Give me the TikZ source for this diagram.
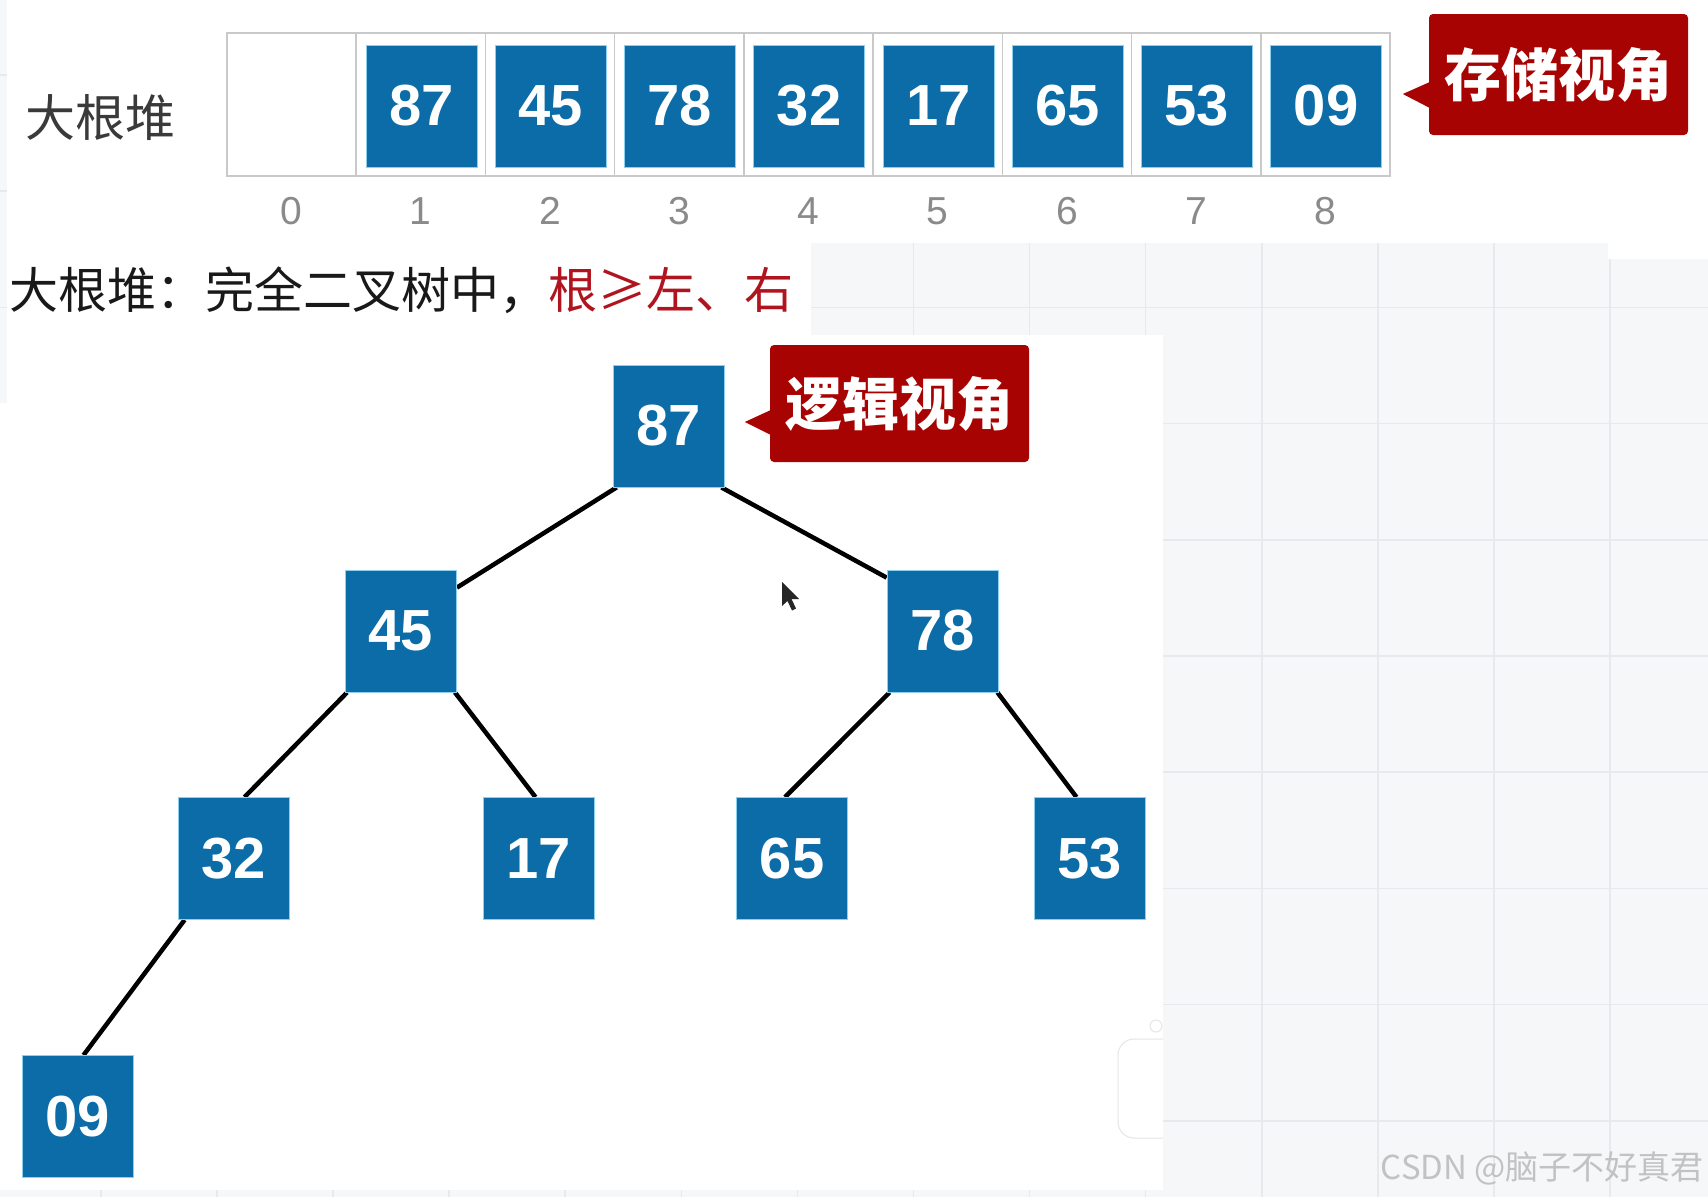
\documentclass[tikz,border=0pt]{standalone}
\usepackage{fontspec}
\newfontfamily\cjk{Noto Sans CJK SC}
\newfontfamily\numfont{Liberation Sans}
\usetikzlibrary{calc}
\definecolor{hblue}{HTML}{0C6CA8}
\definecolor{hedge}{HTML}{8CCFEE}
\definecolor{cred}{HTML}{A80303}
\definecolor{tred}{HTML}{B0141E}
\definecolor{bggray}{HTML}{F6F7F9}
\definecolor{gridc}{HTML}{E8E9EC}
\definecolor{cellb}{HTML}{C9C9C9}
\definecolor{idxg}{HTML}{8A8A8A}
\definecolor{labg}{HTML}{3A3A3A}
\definecolor{wmg}{HTML}{C2C2C2}
\pgfdeclarelayer{bg}
\pgfsetlayers{bg,main}
\begin{document}
\begin{tikzpicture}[x=1pt,y=-1pt,
  bluebox/.style={fill=hblue, draw=hedge, line width=0.8pt, minimum width=111pt, minimum height=122pt, inner sep=0pt, text=white, font=\numfont\bfseries\fontsize{58}{62}\selectfont},
  cellbox/.style={draw=cellb, line width=1.5pt, minimum width=129.2pt, minimum height=143pt, inner sep=0pt},
  idx/.style={text=idxg, font=\numfont\fontsize{39}{42}\selectfont, inner sep=0pt},
  callout/.style={fill=cred, rounded corners=4pt, minimum width=259pt, minimum height=121pt, inner sep=0pt, text=white, font=\cjk\bfseries\fontsize{57}{60}\selectfont},
  treeedge/.style={line width=4.5pt, black},
  gridline/.style={gridc, line width=1.5pt},
]
\useasboundingbox (0,0) rectangle (1708,1197);
% ---------- background ----------
\begin{pgfonlayer}{bg}
\fill[bggray] (0,0) rectangle (1708,1197);
\foreach \k in {0,...,13} \draw[gridline] ({100.8+116.1*\k},0) -- ({100.8+116.1*\k},1197);
\foreach \k in {0,...,9} \draw[gridline] (0,{75+116.2*\k}) -- (1708,{75+116.2*\k});
\fill[white] (7,0) rectangle (1708,243);
\fill[white] (1608,243) rectangle (1708,259);
\fill[white] (7,243) rectangle (811,335);
\fill[white] (7,335) rectangle (1163,1190);
\fill[white] (0,403) rectangle (1163,1190);
\begin{scope}
\clip (1090,1010) rectangle (1163,1160);
\draw[black!10, line width=1pt, fill=white] (1156,1026) circle (6);
\draw[black!10, line width=1pt, fill=white, rounded corners=16pt] (1118,1039) rectangle (1210,1138);
\end{scope}
\end{pgfonlayer}
% ---------- storage view ----------
\node[font=\cjk\fontsize{50}{54}\selectfont, text=labg, inner sep=0pt] (lbl) at (100,118) {大根堆};
\foreach \i in {0,...,8}
  \node[cellbox] (c\i) at ({227+129.22*(\i+0.5)},104.5) {};
\foreach \v [count=\i] in {87,45,78,32,17,65,53,09}
  \node[bluebox] (a\i) at ({227.7+129.22*(\i+0.5)},106) {\v};
\foreach \i in {0,...,8}
  \node[idx] (n\i) at ({227+129.22*(\i+0.5)},211) {\i};
\node[callout] (cs) at (1558.5,74.5) {存储视角};
\fill[cred] ([xshift=1pt,yshift=-7.5pt]cs.west) -- ([xshift=-26pt,yshift=-19.5pt]cs.west) -- ([xshift=1pt,yshift=-33.5pt]cs.west) -- cycle;
% ---------- description ----------
\node[anchor=west, inner sep=0pt, font=\cjk\fontsize{49}{54}\selectfont, text=black!90] (desc) at (9,290) {大根堆：完全二叉树中，\textcolor{tred}{根≥左、右}};
% ---------- logical view ----------
\node[bluebox] (t87) at (668.5,426) {87};
\node[bluebox] (t45) at (401,631) {45};
\node[bluebox] (t78) at (942.5,631) {78};
\node[bluebox] (t32) at (233.5,858.5) {32};
\node[bluebox] (t17) at (538.5,858.5) {17};
\node[bluebox] (t65) at (792,858.5) {65};
\node[bluebox] (t53) at (1089.5,858.5) {53};
\node[bluebox] (t09) at (77.5,1116.5) {09};
\node[callout, minimum height=117pt] (cl) at (899.5,403.5) {逻辑视角};
\fill[cred] ([xshift=1pt,yshift=-6.5pt]cl.west) -- ([xshift=-25pt,yshift=-18.5pt]cl.west) -- ([xshift=1pt,yshift=-31.5pt]cl.west) -- cycle;
\begin{pgfonlayer}{bg}
\draw[treeedge] ([xshift=4pt]t87.south west) -- ([yshift=-18pt]t45.north east);
\draw[treeedge] ([xshift=-3pt]t87.south east) -- ([yshift=-8pt]t78.north west);
\draw[treeedge] ([xshift=2pt]t45.south west) -- ([xshift=11pt]t32.north);
\draw[treeedge] ([xshift=-2pt]t45.south east) -- ([xshift=-3pt]t17.north);
\draw[treeedge] ([xshift=3pt]t78.south west) -- ([xshift=-7pt]t65.north);
\draw[treeedge] ([xshift=-1pt]t78.south east) -- ([xshift=-13pt]t53.north);
\draw[treeedge] ([xshift=7pt]t32.south west) -- ([xshift=6pt]t09.north);
\end{pgfonlayer}
% ---------- cursor ----------
\fill[black!85] (782,582) -- (782,606) -- (787.5,601) -- (792,610.5) -- (796,608.5) -- (791.5,599) -- (799,599) -- cycle;
% ---------- watermark ----------
\node[anchor=east, inner sep=0pt, text=wmg, font=\cjk\fontsize{33}{36}\selectfont] (wmk) at (1704,1168) {CSDN @脑子不好真君};
\end{tikzpicture}
\end{document}
